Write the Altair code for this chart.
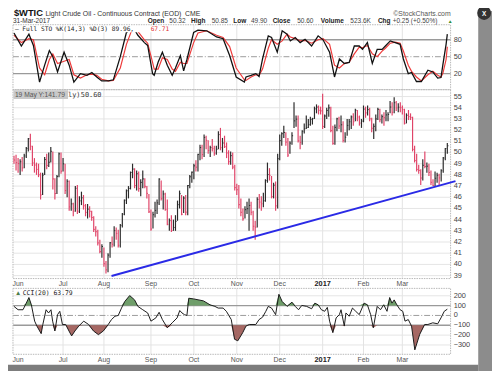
import altair as alt
import pandas as pd

# ---------------- data ----------------
highs = [49.7, 49.8, 49.5, 49.4, 49.6, 49.9, 50.5, 51.3, 51.67, 50.6,
         49.5, 49.1, 49.0, 48.2, 48.2, 49.6, 49.9, 50.0, 50.5, 50.1,
         47.7, 48.0, 50.0, 50.0, 49.5, 49.0, 47.6, 47.5, 45.9, 45.5,
         47.0, 47.1, 46.1, 46.5, 46.2, 45.4, 45.4, 45.2, 44.8, 44.3,
         43.4, 43.1, 42.2, 41.8, 41.5, 40.3, 41.0, 42.0, 42.5, 43.4,
         43.3, 43.1, 43.6, 44.6, 45.8, 46.7, 47.0, 48.3, 49.0, 48.6,
         48.4, 48.3, 47.6, 48.4, 47.7, 47.0, 46.3, 44.9, 44.7, 45.6,
         45.8, 47.7, 47.5, 46.6, 46.4, 45.8, 44.1, 44.4, 44.0, 44.4,
         45.7, 46.6, 46.2, 46.1, 46.2, 47.1, 48.0, 48.3, 49.0, 49.3,
         49.9, 50.7, 50.7, 51.6, 51.5, 51.1, 50.6, 51.2, 50.6, 50.6,
         51.9, 52.2, 51.3, 51.5, 50.9, 50.2, 50.1, 50.0, 48.9, 47.2,
         47.1, 45.9, 45.0, 45.2, 45.6, 45.9, 45.6, 44.8, 43.9, 46.0,
         46.3, 46.1, 46.4, 47.6, 49.1, 48.6, 47.9, 47.3, 47.4, 49.9,
         51.6, 51.8, 52.4, 51.8, 51.3, 51.0, 51.8, 54.5, 53.3, 53.3,
         51.5, 52.0, 52.6, 53.3, 53.0, 53.2, 53.1, 54.1, 54.3, 54.2,
         54.1, 55.24, 53.4, 54.0, 54.3, 54.1, 52.4, 52.5, 53.1, 53.2,
         53.3, 52.8, 51.8, 53.0, 53.0, 53.3, 53.5, 53.9, 53.8, 53.3,
         53.0, 54.2, 54.1, 54.2, 54.0, 53.1, 52.6, 53.4, 54.0, 53.9,
         53.4, 53.6, 53.8, 53.6, 54.6, 54.5, 54.94, 54.6, 54.4, 54.5,
         54.2, 53.9, 53.5, 53.8, 53.5, 53.2, 50.6, 49.9, 48.9, 48.5,
         49.4, 50.1, 49.1, 49.0, 48.4, 47.6, 48.3, 48.2, 48.1, 48.5,
         49.6, 50.4, 50.85]
lows = [49.0, 48.4, 48.2, 48.0, 48.3, 48.6, 49.5, 50.1, 50.2, 48.8,
        48.2, 48.0, 47.8, 45.8, 46.2, 48.0, 48.5, 48.7, 49.1, 46.7,
        45.8, 46.3, 47.8, 48.1, 48.3, 46.3, 46.0, 44.8, 44.8, 44.3,
        44.7, 44.5, 44.6, 45.3, 44.9, 44.3, 44.1, 44.2, 43.9, 42.9,
        42.5, 41.7, 41.0, 40.6, 39.8, 39.19, 39.3, 40.6, 41.5, 41.6,
        42.2, 41.5, 41.5, 43.3, 44.4, 45.4, 45.9, 46.7, 47.7, 46.8,
        46.6, 46.5, 46.1, 46.8, 46.8, 45.9, 44.6, 43.0, 43.2, 44.2,
        44.5, 45.3, 45.7, 44.9, 44.8, 43.5, 43.0, 42.9, 43.0, 43.0,
        43.9, 45.0, 44.4, 44.6, 44.4, 44.4, 46.8, 47.3, 47.6, 48.3,
        48.3, 49.3, 49.4, 49.6, 50.3, 49.9, 49.6, 50.1, 49.7, 49.8,
        50.3, 50.2, 50.0, 50.4, 49.5, 48.9, 48.9, 48.5, 46.6, 46.2,
        45.0, 44.3, 43.9, 44.1, 44.5, 43.0, 44.4, 43.0, 42.2, 43.3,
        45.0, 44.8, 45.1, 45.6, 47.3, 47.5, 45.9, 45.9, 44.8, 45.0,
        49.3, 50.6, 51.3, 50.6, 49.6, 49.9, 50.7, 52.2, 52.3, 50.9,
        50.3, 50.7, 51.7, 52.1, 52.2, 52.4, 52.5, 53.0, 53.5, 53.4,
        53.4, 52.1, 52.2, 53.0, 53.2, 51.8, 50.7, 50.7, 51.9, 52.1,
        51.8, 50.9, 50.9, 51.5, 52.0, 52.1, 52.4, 52.8, 52.8, 52.4,
        52.2, 52.7, 53.1, 53.3, 52.8, 51.8, 51.2, 51.9, 52.9, 52.7,
        52.6, 52.4, 52.8, 52.8, 53.5, 53.3, 53.5, 53.7, 53.6, 53.6,
        53.4, 52.5, 52.6, 52.9, 52.9, 50.1, 49.1, 48.3, 48.1, 47.1,
        47.5, 48.6, 48.2, 47.9, 47.1, 47.0, 47.0, 47.3, 47.1, 47.4,
        48.2, 49.3, 49.90]
closes = [49.33, 49.10, 49.01, 49.17, 48.62, 49.69, 50.36, 51.23, 50.56, 49.07,
          48.88, 48.49, 48.01, 46.21, 47.98, 49.37, 48.85, 49.13, 50.11, 47.64,
          46.33, 47.85, 49.88, 48.33, 48.99, 46.60, 47.43, 45.14, 45.41, 44.76,
          46.80, 44.75, 45.68, 45.95, 45.24, 44.65, 44.94, 44.75, 44.19, 43.13,
          42.92, 41.92, 41.14, 41.60, 40.06, 39.51, 40.83, 41.93, 41.80, 43.02,
          42.77, 41.71, 43.49, 44.49, 45.74, 46.58, 46.79, 48.22, 48.52, 47.05,
          48.10, 46.77, 47.33, 47.64, 46.98, 46.35, 44.70, 43.16, 44.44, 44.83,
          45.50, 47.62, 45.88, 46.29, 44.90, 43.58, 43.91, 43.03, 43.30, 43.85,
          45.34, 46.32, 44.48, 45.93, 44.67, 47.05, 47.83, 48.24, 48.81, 48.69,
          49.83, 50.44, 49.81, 51.35, 51.09, 50.18, 50.44, 50.35, 49.94, 50.29,
          51.60, 50.43, 50.85, 50.52, 49.96, 49.18, 49.72, 48.70, 46.86, 46.67,
          45.34, 44.66, 44.07, 44.89, 44.98, 45.27, 44.66, 43.41, 43.32, 45.81,
          45.57, 45.42, 45.69, 47.49, 48.03, 47.96, 46.06, 47.08, 45.23, 49.44,
          51.06, 51.68, 51.79, 50.93, 49.77, 50.84, 51.50, 52.83, 52.98, 51.04,
          50.90, 51.90, 52.12, 52.23, 52.49, 52.95, 53.02, 53.90, 54.06, 53.77,
          53.72, 52.33, 53.26, 53.76, 53.99, 51.96, 50.82, 52.25, 53.01, 52.37,
          52.48, 51.08, 51.37, 52.42, 52.75, 53.18, 52.75, 53.78, 53.17, 52.63,
          52.81, 53.88, 53.54, 53.83, 53.01, 52.17, 52.34, 53.00, 53.86, 52.93,
          53.20, 53.11, 53.36, 53.40, 54.06, 53.59, 54.45, 53.99, 54.05, 54.01,
          53.83, 52.61, 53.33, 53.20, 53.14, 50.28, 49.28, 48.49, 48.40, 47.72,
          48.86, 48.75, 48.78, 48.22, 47.34, 47.04, 47.70, 47.97, 47.73, 48.37,
          49.51, 50.35, 50.60]
prev_close_first = 49.48

month_idx = [2, 24, 44, 67, 88, 109, 130, 151, 171, 190]
month_labels = ["Jun", "Jul", "Aug", "Sep", "Oct", "Nov", "Dec", "2017", "Feb", "Mar"]

price_ticks = list(range(39, 56))
sto_ticks = [80, 50, 20]
cci_ticks = [200, 100, 0, -100, -200, -300]

trend_idx = [47.7, 216.0]
trend_price = [38.97, 47.44]

sto_idx = [0, 3.6, 7.3, 9.5, 12.5, 15, 17.3, 19, 21.3, 24.5, 27, 29.3, 32.5, 35.7, 38.1,
           40.5, 42.9, 46.2, 48.6, 52, 55, 57.4, 59, 60.6, 63.8, 65.4, 67.8, 68.6, 70.5,
           72.6, 75, 77.4, 79, 81.4, 83, 84.6, 87.9, 90, 94.3, 99.1, 102.3, 105.5, 108.7,
           112.7, 113.5, 116, 118.3, 119.9, 121.6, 124.4, 126, 128.8, 131.2, 133.6, 135.2,
           137.6, 140, 142.4, 145.6, 148.8, 151.2, 154.4, 156.8, 159.2, 161.6, 164, 166.5,
           168.9, 170.5, 172.9, 175.3, 177.7, 180.1, 181.7, 184.1, 186.5, 188.9, 190.5,
           192.9, 194.5, 196.9, 199.3, 202.5, 204.9, 207.3, 208.9, 209.8, 211.4, 212]
sto_k = [92, 69, 90, 70, 5, 35, 61, 50, 23, 58, 35, 5, 20, 17, 22,
         14, 7, 7, 9, 50, 93, 99, 98, 88, 75, 70, 20, 17, 40,
         58, 35, 17, 30, 52, 25, 45, 93, 97, 96, 85, 82, 52, 14,
         5, 14, 17, 20, 15, 46, 87, 84, 58, 96, 90, 78,
         84, 75, 81, 69, 87, 80, 58, 14, 46, 38, 40, 69,
         69, 63, 75, 38, 63, 63, 69, 78, 75, 72, 46,
         20, 22, 6, 6, 26, 23, 12, 13, 35, 72, 89.96]
sto_d = [88, 75, 82, 80, 30, 18, 45, 55, 38, 42, 45, 18, 12, 18, 19,
         17, 10, 7, 8, 30, 72, 95, 99, 95, 80, 74, 40, 28, 28,
         48, 45, 28, 24, 40, 38, 38, 75, 92, 96, 88, 84, 68, 30,
         9, 8, 14, 18, 17, 28, 65, 80, 72, 78, 90, 85,
         82, 78, 79, 74, 80, 82, 72, 35, 30, 38, 40, 55,
         67, 66, 70, 55, 50, 60, 65, 74, 76, 74, 60,
         35, 24, 14, 7, 18, 24, 17, 14, 20, 45, 67.71]

cci_idx = [0, 2, 4.4, 6, 7.3, 8.5, 10.1, 11.2, 13.3, 14.1, 15.7, 16.9, 18.1, 18.9, 20,
           21.3, 22.4, 23.7, 25.3, 26.9, 28.2, 29.8, 31.7, 34.1, 36.5, 38.9, 41.3, 43.7,
           46.1, 47.7, 49.4, 51, 52.6, 54.2, 56.6, 59, 60.6, 63, 65.4, 67, 69.4, 71, 72.6,
           75, 77.4, 79.8, 81.1, 82.2, 83.4, 84.6, 85.5, 87.9, 92.7, 95.9, 98.3, 99.9,
           102.3, 103.9, 106.3, 107.9, 109.5, 111.9, 113.5, 115.1, 118.3, 119.9, 121.6,
           123.2, 124.4, 126, 128, 129.6, 131.2, 133.6, 136, 137.6, 139.2, 140.8, 143.2,
           145.6, 147.2, 148.8, 150.4, 152, 153.3, 154.4, 156, 157.6, 159.2, 160, 161.6,
           162.4, 164, 165.6, 167.2, 168.9, 171.3, 172.9, 174.5, 175.8, 177.7, 179.3,
           180.9, 182.5, 183.8, 184.9, 186, 187.3, 188.9, 190.2, 191.3, 192.9, 194.5,
           196.1, 198.5, 200.9, 202.5, 204.9, 207.3, 208.9, 210.5, 212]
cci_val = [92, 58, 58, 125, 182, 108, -58, -108, -185, -92, 58, 25, 58, -58, -158,
           8, 42, -92, -92, -158, -208, -158, -108, -58, -92, -158, -195, -158,
           -92, -42, -8, 0, 75, 142, 202, 158, 92, 58, 25, -58, -25, 32, -42,
           -125, -75, -25, 50, 25, 8, 0, 175, 168, 148, 108, 92, 75,
           75, 42, -42, -242, -258, -175, -108, -92, -92, -42, -18,
           42, 92, 75, 8, 215, 142, 92, 135, 92, 58, 102, 92,
           68, 125, 108, 58, 42, 82, -58, -175, -25, 8, 58, -108,
           25, -8, 75, 42, 8, 125, 108, 8, -125, 92, 58,
           108, 42, 182, 125, 158, 108, 58, 42, -58, -42, -108,
           -350, -192, -92, -92, -75, -85, -25, 42, 63.79]

# ---------------- layout / style ----------------
FONT = "Liberation Sans"
MONO = "DejaVu Sans Mono"
XL, XR = 5.06, 449.9
xs = alt.Scale(domain=[-0.5, 213.6], range=[XL, XR], nice=False, zero=False)
ps = alt.Scale(domain=[38.736, 55.615], range=[272, 80], nice=False, zero=False)
ss = alt.Scale(domain=[-8.5, 106.7], range=[80, 14], nice=False, zero=False)
cs = alt.Scale(domain=[-395, 275], range=[349, 282], nice=False, zero=False)
PANELS = {"sto": (14, 80), "price": (80, 272), "cci": (282, 349)}

dirs = []
for i, c in enumerate(closes):
    prev = prev_close_first if i == 0 else closes[i - 1]
    dirs.append("up" if c >= prev else "down")
bars = pd.DataFrame({"i": list(range(len(closes))), "h": highs, "l": lows,
                     "c": closes, "dir": dirs})
sto = pd.DataFrame({"i": sto_idx, "k": sto_k, "d": sto_d})
cci = pd.DataFrame({"i": cci_idx, "v": cci_val})
months = pd.DataFrame({"i": month_idx, "lab": month_labels})
trend = pd.DataFrame({"i": trend_idx, "p": trend_price})


def X(f="i"):
    return alt.X(f"{f}:Q", scale=xs, axis=None)


layers = []

# horizontal gridlines
layers.append(alt.Chart(pd.DataFrame({"v": price_ticks})).mark_rule(color="#e4e4e4", strokeWidth=1).encode(
    y=alt.Y("v:Q", scale=ps, axis=None), x=alt.value(XL), x2=alt.value(XR)))
layers.append(alt.Chart(pd.DataFrame({"v": [200, -200, -300]})).mark_rule(color="#e4e4e4", strokeWidth=1).encode(
    y=alt.Y("v:Q", scale=cs, axis=None), x=alt.value(XL), x2=alt.value(XR)))
# vertical gridlines
for key, (t, b) in PANELS.items():
    layers.append(alt.Chart(months).transform_filter("datum.i > 5").mark_rule(color="#e2e2e2", strokeWidth=1).encode(
        x=X(), y=alt.value(t), y2=alt.value(b)))

# STO reference lines
layers.append(alt.Chart(pd.DataFrame({"v": [80, 20]})).mark_rule(color="#9a9a9a", strokeWidth=1.4).encode(
    y=alt.Y("v:Q", scale=ss, axis=None), x=alt.value(XL), x2=alt.value(XR)))
layers.append(alt.Chart(pd.DataFrame({"v": [50]})).mark_rule(color="#9a9a9a", strokeWidth=1, strokeDash=[6, 2, 1, 2]).encode(
    y=alt.Y("v:Q", scale=ss, axis=None), x=alt.value(XL), x2=alt.value(XR)))
# CCI reference lines
layers.append(alt.Chart(pd.DataFrame({"v": [100, -100]})).mark_rule(color="#9a9a9a", strokeWidth=1.4).encode(
    y=alt.Y("v:Q", scale=cs, axis=None), x=alt.value(XL), x2=alt.value(XR)))
layers.append(alt.Chart(pd.DataFrame({"v": [0]})).mark_rule(color="#9a9a9a", strokeWidth=1, strokeDash=[6, 2, 1, 2]).encode(
    y=alt.Y("v:Q", scale=cs, axis=None), x=alt.value(XL), x2=alt.value(XR)))

# panel frames
for key, (t, b) in PANELS.items():
    layers.append(alt.Chart(pd.DataFrame({"a": [0]})).mark_rect(
        fillOpacity=0, stroke="#b8b8b8", strokeWidth=1, strokeDash=[1.5, 1]).encode(
        x=alt.value(XL), x2=alt.value(XR), y=alt.value(t), y2=alt.value(b)))

# price bars
color_dir = alt.Color("dir:N", scale=alt.Scale(domain=["up", "down"], range=["#2b2b2b", "#e04468"]), legend=None)
layers.append(alt.Chart(bars).mark_rule(strokeWidth=1.2).encode(
    x=X(), y=alt.Y("l:Q", scale=ps, axis=None), y2="h:Q", color=color_dir))
layers.append(alt.Chart(bars).transform_calculate(i2="datum.i + 0.55").mark_rule(strokeWidth=1).encode(
    x=X(), x2="i2:Q", y=alt.Y("c:Q", scale=ps, axis=None), color=color_dir))

# trend line
layers.append(alt.Chart(trend).mark_line(color="#2a2ae6", strokeWidth=2).encode(
    x=X(), y=alt.Y("p:Q", scale=ps, axis=None)))

# STO lines
layers.append(alt.Chart(sto).mark_line(color="#ee3a3a", strokeWidth=1.2).encode(
    x=X(), y=alt.Y("d:Q", scale=ss, axis=None)))
layers.append(alt.Chart(sto).mark_line(color="#111111", strokeWidth=1.3).encode(
    x=X(), y=alt.Y("k:Q", scale=ss, axis=None)))

# CCI filled zones and line
layers.append(alt.Chart(cci).transform_calculate(up="max(datum.v, 100)", b="100").mark_area(
    color="#5f945a", opacity=0.9).encode(x=X(), y=alt.Y("up:Q", scale=cs, axis=None), y2="b:Q"))
layers.append(alt.Chart(cci).transform_calculate(dn="min(datum.v, -100)", b="-100").mark_area(
    color="#9c5853", opacity=0.9).encode(x=X(), y=alt.Y("dn:Q", scale=cs, axis=None), y2="b:Q"))
layers.append(alt.Chart(cci).mark_line(color="#1a1a1a", strokeWidth=1).encode(
    x=X(), y=alt.Y("v:Q", scale=cs, axis=None)))

# right-hand tick labels
for ticks, sc in ((price_ticks, ps), (sto_ticks, ss), (cci_ticks, cs)):
    layers.append(alt.Chart(pd.DataFrame({"v": ticks})).mark_text(
        align="left", baseline="middle", font=FONT, fontSize=7.5, color="#444").encode(
        y=alt.Y("v:Q", scale=sc, axis=None), x=alt.value(453), text="v:Q"))

# month labels (two rows)
for yb in (280, 357):
    layers.append(alt.Chart(months).transform_filter("datum.lab != '2017'").mark_text(
        align="center", baseline="alphabetic", font=FONT, fontSize=7, color="#555").encode(
        x=X(), y=alt.value(yb), text="lab:N"))
    layers.append(alt.Chart(months).transform_filter("datum.lab == '2017'").mark_text(
        align="center", baseline="alphabetic", font=FONT, fontSize=7.5, fontWeight="bold", color="#222").encode(
        x=X(), y=alt.value(yb), text="lab:N"))


def box(x1, x2, y1, y2, fill, **kw):
    return alt.Chart(pd.DataFrame({"a": [0]})).mark_rect(fill=fill, **kw).encode(
        x=alt.value(x1), x2=alt.value(x2), y=alt.value(y1), y2=alt.value(y2))


def txt(s, x, y, size=7, bold=False, color="#333", align="left", font=FONT):
    return alt.Chart(pd.DataFrame({"t": [s]})).mark_text(
        x=x, y=y, align=align, baseline="alphabetic", font=font, fontSize=size,
        fontWeight="bold" if bold else "normal", color=color).encode(text="t:N")


# legends inside panels
layers.append(box(6, 167, 15, 21.5, "white"))
layers.append(txt("\u2014 Full STO %K(14,3) %D(3) 89.96,", 7, 20.5, size=6.3, color="#222", font=MONO))
layers.append(txt("67.71", 145, 20.5, size=6.3, color="#e03030", font=MONO))
layers.append(box(5.5, 61, 80.5, 89.5, "#c9c9c9"))
layers.append(txt("19 May Y:141.79", 7, 87.5, size=6.8, color="#555"))
layers.append(txt("ly)", 61, 87.5, size=7, color="#333", font=MONO))
layers.append(txt("50.60", 74, 87.5, size=7, color="#333", font=MONO))
layers.append(txt("\u25b2", 7, 289, size=6.5, color="#4c7d47"))
layers.append(txt("CCI(20) 63.79", 15, 289, size=6.5, color="#222", font=MONO))

# header
layers.append(txt("$WTIC", 6, 5.2, size=9.5, bold=True, color="#111"))
layers.append(txt("Light Crude Oil - Continuous Contract (EOD)", 38, 5.2, size=7, color="#333"))
layers.append(txt("CME", 180, 5.2, size=7, color="#333"))
layers.append(txt("\u00a9StockCharts.com", 450, 5.2, size=7, color="#555", align="right"))
layers.append(txt("31-Mar-2017", 5, 12.6, size=6.6, color="#333"))
head = [("Open", 142, True), ("50.32", 164, False), ("High", 186, True), ("50.85", 207, False),
        ("Low", 229, True), ("49.90", 247, False), ("Close", 269, True), ("50.60", 294, False),
        ("Volume", 318, True), ("523.6K", 348, False), ("Chg", 376, True),
        ("+0.25 (+0.50%)", 391, False)]
for s, x, b in head:
    layers.append(txt(s, x, 12.6, size=6.6, bold=b, color="#222" if b else "#444"))
layers.append(txt("\u25b2", 447, 12.6, size=5, color="#2e8b2e"))

# window frame decorations
layers.append(box(478, 492, 0, 366, "#8c8c8c"))
layers.append(box(0, 478, 359.5, 366, "#7d7d7d"))
layers.append(alt.Chart(pd.DataFrame({"a": [0]})).mark_circle(color="#333", opacity=1).encode(
    x=alt.value(484), y=alt.value(2), size=alt.value(200)))
layers.append(txt("X", 484, 5.5, size=6.5, bold=True, color="white", align="center"))

chart = alt.layer(*layers).resolve_scale(x="independent", y="independent", color="shared").properties(
    width=492, height=366, padding=0, autosize=alt.AutoSizeParams(type="none"),
    background="white").configure_view(stroke=None)

chart.save("out.html", embed_options={"renderer": "svg", "actions": False})
